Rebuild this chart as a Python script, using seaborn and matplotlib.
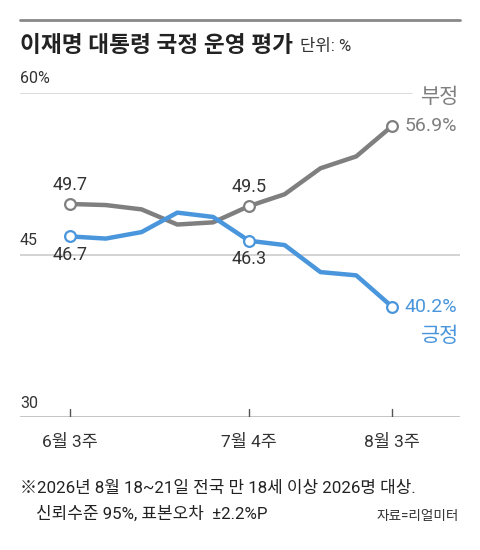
import matplotlib
matplotlib.use('Agg')
import numpy as np
import pandas as pd
import seaborn as sns
import matplotlib.pyplot as plt

weeks = ['6월 3주', '6월 4주', '7월 1주', '7월 2주', '7월 3주', '7월 4주',
         '7월 5주', '8월 1주', '8월 2주', '8월 3주']
negative = [49.7, 49.6, 49.2, 47.8, 48.0, 49.5, 50.6, 53.0, 54.1, 56.9]
positive = [46.7, 46.5, 47.1, 48.9, 48.5, 46.3, 45.9, 43.4, 43.1, 40.2]
tick_weeks = ['6월 3주', '7월 4주', '8월 3주']
y_ticks = [30, 45, 60]

gray = '#7f7f7f'
blue = '#4a96dc'

sns.set_theme(style='white')
plt.rcParams['font.family'] = ['Roboto', 'Noto Sans CJK KR', 'DejaVu Sans']

W, H = 480, 550
fig = plt.figure(figsize=(W / 100, H / 100), dpi=100)

def px(x, y):
    return x / W, 1 - y / H

ax = fig.add_axes([20 / W, 1 - 417 / H, 440 / W, (417 - 92.6) / H])
df = pd.DataFrame({'week': weeks, 'idx': range(len(weeks)),
                   '부정': negative, '긍정': positive})

sns.lineplot(data=df, x='idx', y='부정', color=gray, lw=3.2, ax=ax, zorder=3)
sns.lineplot(data=df, x='idx', y='긍정', color=blue, lw=3.2, ax=ax, zorder=3)

mark = df[df['week'].isin(tick_weeks)]
ax.scatter(mark['idx'], mark['부정'], s=60, facecolor='white', edgecolor=gray, lw=1.6, zorder=4)
ax.scatter(mark['idx'], mark['긍정'], s=60, facecolor='white', edgecolor=blue, lw=1.6, zorder=4)

ax.set_xlim(-1.397, 10.9)
ax.set_ylim(30, 60)
for s in ax.spines.values():
    s.set_visible(False)
ax.set_xticks([])
ax.set_yticks([])
ax.set_xlabel('')
ax.set_ylabel('')

ax.axhline(60, xmin=0, xmax=(412 - 20) / 440, color='#d4d4d4', lw=1.2, zorder=1)
ax.axhline(45, color='#cccccc', lw=1.2, zorder=1)
ax.axhline(30, color='#bbbbbb', lw=1.2, zorder=1)

for yv, lab in zip(y_ticks, ['30', '45', '60%']):
    ax.text(-1.397, yv + 0.6, lab, ha='left', va='bottom', fontsize=11.5, color='#333333')

for _, r in mark.iterrows():
    ax.plot([r['idx'], r['idx']], [30, 30.75], color='#555555', lw=1, zorder=2)
    ax.text(r['idx'], 28.4, r['week'], ha='center', va='top', fontsize=12.5, color='#333333')

# value labels at first and middle point
for _, r in mark.iloc[:2].iterrows():
    ax.text(r['idx'], r['부정'] + 0.9, f"{r['부정']:.1f}", ha='center', va='bottom',
            fontsize=13, color='#333333')
    ax.text(r['idx'], r['긍정'] - 0.9, f"{r['긍정']:.1f}", ha='center', va='top',
            fontsize=13, color='#333333')

last = df.iloc[-1]
ax.text(last['idx'] + 0.35, last['부정'], f"{last['부정']:.1f}%", ha='left', va='center',
        fontsize=14, color=gray)
ax.text(last['idx'] + 0.35, last['긍정'], f"{last['긍정']:.1f}%", ha='left', va='center',
        fontsize=14, color=blue)
fig.text(*px(459, 97), '부정', ha='right', va='center', fontsize=15, color=gray)
fig.text(*px(459, 336), '긍정', ha='right', va='center', fontsize=15, color=blue)

# header
fig.add_artist(plt.Line2D([20 / W, 460 / W], [1 - 20 / H, 1 - 20 / H], color='#888888', lw=2))
t = fig.text(*px(20, 46), '이재명 대통령 국정 운영 평가', ha='left', va='center',
             fontsize=16.3, fontweight='bold', color='#222222')
fig.canvas.draw()
bb = t.get_window_extent()
fig.text(bb.x1 / W + 7 / W, 1 - 47 / H, '단위: %', ha='left', va='center',
         fontsize=12, color='#333333')

# footnote
fig.text(*px(20, 489), '※2026년 8월 18~21일 전국 만 18세 이상 2026명 대상.', ha='left', va='center',
         fontsize=12.2, color='#222222')
fig.text(*px(36, 514), '신뢰수준 95%, 표본오차  ±2.2%P', ha='left', va='center',
         fontsize=12.2, color='#222222')
fig.text(*px(459, 516), '자료=리얼미터', ha='right', va='center', fontsize=9.8, color='#333333')

fig.savefig('out.png', dpi=100)
